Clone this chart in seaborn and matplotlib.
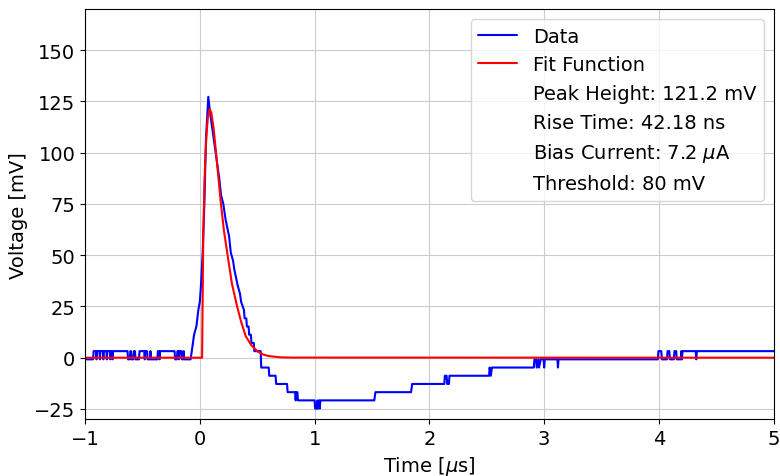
#!/usr/bin/env python3

import matplotlib
matplotlib.use("Agg")
import matplotlib.pyplot as plt
import pandas as pd
import seaborn as sns

FIGSIZE = (7.8, 4.77)

# The ADC is quantised in ~4 mV steps, so the baseline toggles between two levels.
baseline_pts = [
    (-1.00, -0.8), (-0.93, -0.8), (-0.925, 3.2), (-0.904, 3.2), (-0.90, -0.8),
    (-0.896, 3.2), (-0.874, 3.2), (-0.87, -0.8), (-0.866, 3.2), (-0.844, 3.2),
    (-0.84, -0.8), (-0.836, 3.2), (-0.814, 3.2), (-0.81, -0.8), (-0.806, 3.2),
    (-0.784, 3.2), (-0.78, -0.8), (-0.776, 3.2), (-0.764, 3.2), (-0.76, -0.8),
    (-0.756, 3.2), (-0.63, 3.2), (-0.625, -0.8), (-0.61, -0.8), (-0.605, 3.2),
    (-0.60, 3.2), (-0.595, -0.8), (-0.58, -0.8), (-0.575, 3.2), (-0.565, 3.2),
    (-0.56, -0.8), (-0.53, -0.8), (-0.525, 3.2), (-0.484, 3.2), (-0.48, -0.8),
    (-0.476, 3.2), (-0.46, 3.2), (-0.455, -0.8), (-0.434, -0.8), (-0.43, 3.2),
    (-0.426, -0.8), (-0.37, -0.8), (-0.365, 3.2), (-0.354, 3.2), (-0.35, -0.8),
    (-0.346, 3.2), (-0.22, 3.2), (-0.215, -0.8), (-0.20, -0.8), (-0.195, 3.2),
    (-0.185, 3.2), (-0.18, -0.8), (-0.175, 3.2), (-0.16, 3.2), (-0.155, -0.8),
    (-0.145, -0.8), (-0.14, 3.2), (-0.135, -0.8), (-0.08, -0.8),
]
pulse_pts = [
    (-0.06, 7.2), (-0.05, 11.2), (-0.03, 15.2), (-0.013, 23.2), (0.0, 27.2),
    (0.01, 35.2), (0.025, 51.2), (0.04, 75.2), (0.054, 107.2), (0.074, 127.2),
    (0.09, 119.2), (0.11, 111.2), (0.13, 103.2), (0.15, 95.2), (0.17, 87.2),
    (0.185, 79.2), (0.204, 75.2), (0.225, 67.2), (0.24, 63.2), (0.255, 59.2),
    (0.27, 51.2), (0.29, 47.2), (0.30, 43.2), (0.315, 39.2), (0.33, 35.2),
    (0.35, 31.2), (0.36, 27.2), (0.372, 25.2), (0.385, 23.2), (0.39, 19.2),
    (0.405, 19.2), (0.41, 15.2), (0.425, 15.2), (0.43, 11.2), (0.445, 11.2),
    (0.45, 7.2), (0.47, 7.2), (0.475, 3.2), (0.53, 3.2), (0.535, -4.8),
]
tail_pts = [
    (0.60, -4.8), (0.605, -8.8), (0.66, -8.8), (0.665, -12.8), (0.76, -12.8),
    (0.765, -16.8), (0.83, -16.8), (0.835, -20.8), (0.84, -16.8), (0.85, -16.8),
    (0.855, -20.8), (1.00, -20.8), (1.005, -24.8), (1.02, -24.8), (1.025, -20.8),
    (1.03, -24.8), (1.04, -20.8), (1.045, -24.8), (1.05, -20.8), (1.52, -20.8),
    (1.53, -16.8), (1.84, -16.8), (1.85, -12.8), (2.13, -12.8), (2.135, -8.8),
    (2.15, -8.8), (2.155, -12.8), (2.17, -12.8), (2.175, -8.8), (2.52, -8.8),
    (2.525, -4.8), (2.535, -8.8), (2.545, -4.8), (2.91, -4.8), (2.915, -0.8),
    (2.93, -0.8), (2.935, -4.8), (2.95, -0.8), (2.955, -4.8), (2.97, -0.8),
    (2.995, -0.8), (3.0, -4.8), (3.005, -0.8), (3.115, -0.8), (3.12, -4.8),
    (3.125, -0.8), (3.99, -0.8), (3.995, 3.2), (4.02, 3.2), (4.025, -0.8),
    (4.07, -0.8), (4.075, 3.2), (4.09, 3.2), (4.095, -0.8), (4.13, -0.8),
    (4.135, 3.2), (4.15, 3.2), (4.155, -0.8), (4.19, -0.8), (4.195, 3.2),
    (4.20, -0.8), (4.205, 3.2), (4.32, 3.2), (4.325, -0.8), (4.33, 3.2),
    (5.00, 3.2),
]

# Fitted pulse shape, sampled from the red curve
fit_t = [
    -1.00, 0.020, 0.030, 0.040, 0.050, 0.060, 0.070, 0.085, 0.100, 0.120,
    0.150, 0.184, 0.210, 0.242, 0.280, 0.325, 0.360, 0.400, 0.450, 0.500,
    0.550, 0.600, 0.700, 0.800, 5.00,
]
fit_v = [
    0.0, 0.0, 60.0, 85.0, 100.0, 110.0, 117.0, 121.2, 119.5, 112.0,
    95.0, 75.0, 62.0, 50.0, 36.0, 25.0, 17.5, 10.5, 6.0, 3.2,
    1.6, 0.8, 0.2, 0.05, 0.0,
]

legend_notes = [
    "Peak Height: 121.2 mV",
    "Rise Time: 42.18 ns",
    r"Bias Current: 7.2 $\mu$A",
    "Threshold: 80 mV",
]


def plot_pulse(out_png):
    sns.set_style("ticks", {"text.color": "black", "axes.labelcolor": "black",
                            "xtick.color": "black", "ytick.color": "black",
                            "axes.edgecolor": "black"})
    plt.rcParams["font.family"] = ["DejaVu Sans"]
    plt.rcParams["font.size"] = 14

    fig, ax = plt.subplots(figsize=FIGSIZE, dpi=100)

    df_data = pd.DataFrame(baseline_pts + pulse_pts + tail_pts, columns=["t", "v"])
    df_fit = pd.DataFrame({"t": fit_t, "v": fit_v})

    sns.lineplot(data=df_data, x="t", y="v", ax=ax, color="blue",
                 linewidth=1.5, label="Data", sort=False)
    sns.lineplot(data=df_fit, x="t", y="v", ax=ax, color="red",
                 linewidth=1.5, label="Fit Function", sort=False)
    for note in legend_notes:
        ax.plot([], [], " ", label=note)

    ax.set_xlim(-1, 5)
    ax.set_ylim(-30, 170)
    ax.set_yticks([-25, 0, 25, 50, 75, 100, 125, 150])
    ax.set_xlabel(r"Time [$\mu$s]", fontsize=14)
    ax.set_ylabel("Voltage [mV]", fontsize=14)
    ax.tick_params(labelsize=14)
    ax.grid(True, color="#cccccc", linewidth=0.8)

    ax.legend(loc="upper right", fontsize=14)

    fig.subplots_adjust(left=0.109, right=0.992, top=0.979, bottom=0.119)
    fig.savefig(out_png, dpi=100)
    plt.close()


if __name__ == "__main__":
    plot_pulse("out.png")
